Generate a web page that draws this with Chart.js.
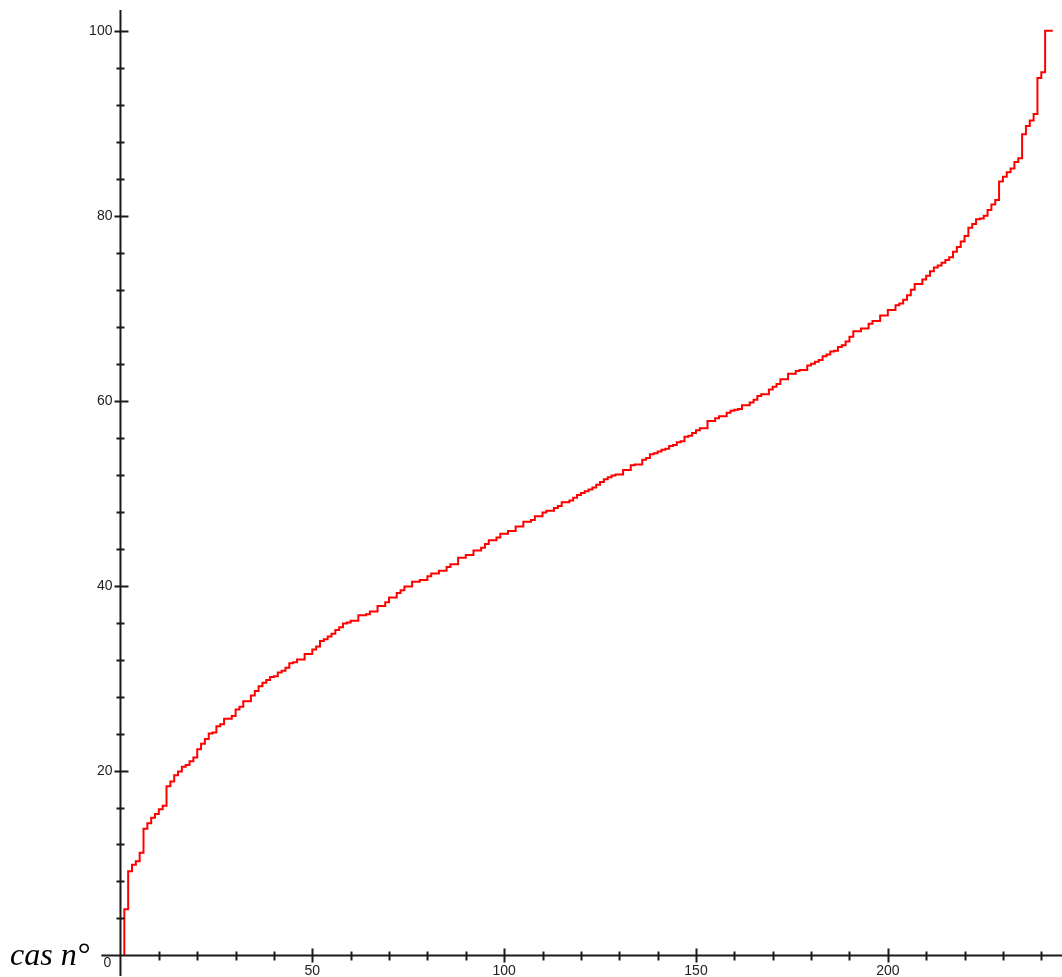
<!DOCTYPE html>
<html>
<head>
<meta charset="utf-8">
<script src="https://cdn.jsdelivr.net/npm/chart.js@4"></script>
<style>
    html, body { margin: 0; padding: 0; background: #ffffff; }
    #wrap { position: relative; width: 1062px; height: 977px; }
</style>
</head>
<body>
<div id="wrap"><canvas id="stepChart"></canvas></div>
<script>
// Sorted values, one per case
const values = [
    4.6, 5.0, 9.1, 9.8, 10.2, 11.1, 13.7, 14.3, 14.9, 15.3,
    15.8, 16.2, 18.3, 18.8, 19.5, 19.9, 20.4, 20.6, 21.0, 21.4,
    22.3, 22.9, 23.4, 24.0, 24.1, 24.8, 25.0, 25.6, 25.6, 25.9,
    26.6, 26.9, 27.5, 27.5, 28.1, 28.6, 29.1, 29.5, 29.8, 30.1,
    30.2, 30.6, 30.8, 31.1, 31.6, 31.7, 32.0, 32.0, 32.6, 32.6,
    33.1, 33.4, 34.0, 34.2, 34.5, 34.8, 35.2, 35.5, 35.9, 36.0,
    36.2, 36.2, 36.8, 36.8, 36.9, 37.2, 37.2, 37.8, 37.8, 38.2,
    38.7, 38.7, 39.2, 39.5, 39.9, 39.9, 40.4, 40.4, 40.6, 40.6,
    41.0, 41.3, 41.3, 41.6, 41.6, 42.0, 42.3, 42.3, 43.0, 43.0,
    43.3, 43.3, 43.8, 43.8, 44.1, 44.5, 44.9, 44.9, 45.2, 45.6,
    45.6, 45.9, 45.9, 46.4, 46.4, 46.9, 46.9, 47.1, 47.5, 47.5,
    47.9, 48.1, 48.1, 48.4, 48.6, 49.0, 49.0, 49.2, 49.5, 49.8,
    50.0, 50.2, 50.4, 50.6, 50.9, 51.2, 51.5, 51.7, 51.9, 52.0,
    52.0, 52.5, 52.5, 53.0, 53.1, 53.1, 53.6, 53.8, 54.2, 54.3,
    54.5, 54.7, 54.8, 55.1, 55.2, 55.5, 55.6, 56.1, 56.2, 56.5,
    56.8, 57.0, 57.0, 57.8, 57.8, 58.1, 58.3, 58.3, 58.7, 58.9,
    59.0, 59.1, 59.5, 59.5, 59.8, 60.1, 60.5, 60.7, 60.7, 61.2,
    61.5, 61.8, 62.3, 62.3, 62.9, 62.9, 63.2, 63.3, 63.3, 63.8,
    64.0, 64.2, 64.4, 64.8, 65.0, 65.3, 65.4, 65.8, 66.0, 66.4,
    66.9, 67.5, 67.5, 67.8, 67.8, 68.3, 68.6, 68.6, 69.2, 69.2,
    69.8, 69.8, 70.3, 70.5, 70.9, 71.4, 72.0, 72.6, 72.6, 73.1,
    73.5, 74.0, 74.4, 74.6, 74.9, 75.2, 75.5, 76.1, 76.6, 77.2,
    77.8, 78.7, 79.1, 79.6, 79.7, 80.0, 80.6, 81.2, 81.7, 83.7,
    84.2, 84.7, 85.1, 85.8, 86.2, 88.8, 89.7, 90.3, 91.0, 94.9,
    95.5, 100.0
];

// Case numbers 1..n
const cases = values.map((v, i) => i + 1);

// Axis ticks and labels
const xTicks = [10, 20, 30, 40, 50, 60, 70, 80, 90, 100, 110, 120, 130, 140, 150, 160, 170, 180, 190, 200, 210, 220, 230, 240];
const xLabels = [50, 100, 150, 200];
const yTicks = [4, 8, 12, 16, 20, 24, 28, 32, 36, 40, 44, 48, 52, 56, 60, 64, 68, 72, 76, 80, 84, 88, 92, 96, 100];
const yLabels = [20, 40, 60, 80, 100];
const axisTitle = 'cas n°';

// Build step points: start on the axis, end with the last level carried one case on
const points = [{ x: cases[0], y: 0 }];
cases.forEach((c, i) => points.push({ x: c, y: values[i] }));
points.push({ x: cases[cases.length - 1] + 1, y: values[values.length - 1] });

// Axes crossing at the origin, drawn from the chart scales
const crossAxes = {
    id: 'crossAxes',
    afterDatasetsDraw(chart) {
        const ctx = chart.ctx;
        const xs = chart.scales.x;
        const ys = chart.scales.y;
        const area = chart.chartArea;
        const x0 = xs.getPixelForValue(0);
        const y0 = ys.getPixelForValue(0);

        ctx.save();
        ctx.strokeStyle = '#1a1a1a';
        ctx.lineWidth = 2;

        // axis lines
        ctx.beginPath();
        ctx.moveTo(area.left, y0);
        ctx.lineTo(area.right, y0);
        ctx.moveTo(x0, area.top);
        ctx.lineTo(x0, area.bottom);
        ctx.stroke();

        // x ticks
        ctx.beginPath();
        xTicks.forEach(t => {
            const px = Math.round(xs.getPixelForValue(t)) + 0.5;
            const major = xLabels.includes(t);
            ctx.moveTo(px, y0 - (major ? 7 : 4));
            ctx.lineTo(px, y0 + (major ? 7 : 5));
        });
        // y ticks
        yTicks.forEach(t => {
            const py = Math.round(ys.getPixelForValue(t)) + 0.5;
            const major = yLabels.includes(t);
            ctx.moveTo(x0 - (major ? 6 : 4), py);
            ctx.lineTo(x0 + (major ? 8 : 4), py);
        });
        ctx.stroke();

        // tick labels
        ctx.fillStyle = '#222222';
        ctx.font = '14px "Liberation Sans", Arial, sans-serif';
        ctx.textAlign = 'center';
        ctx.textBaseline = 'alphabetic';
        xLabels.forEach(t => {
            ctx.fillText(String(t), xs.getPixelForValue(t), y0 + 20);
        });
        ctx.textAlign = 'right';
        ctx.textBaseline = 'middle';
        yLabels.forEach(t => {
            ctx.fillText(String(t), x0 - 8, ys.getPixelForValue(t) + 0.5);
        });
        ctx.textAlign = 'center';
        ctx.textBaseline = 'alphabetic';
        ctx.fillText('0', x0 - 13, y0 + 11.5);

        // axis title
        ctx.fillStyle = '#000000';
        ctx.font = 'italic 32px "Liberation Serif", "Times New Roman", serif';
        ctx.textAlign = 'left';
        ctx.fillText(axisTitle, 10, y0 + 10);
        ctx.restore();
    }
};

// Create chart
document.addEventListener('DOMContentLoaded', () => {
    const ctx = document.getElementById('stepChart');
    new Chart(ctx, {
        type: 'line',
        data: {
            datasets: [{
                data: points,
                borderColor: '#ff0000',
                borderWidth: 2,
                stepped: 'after',
                pointRadius: 0,
                fill: false
            }]
        },
        options: {
            responsive: true,
            maintainAspectRatio: false,
            animation: false,
            layout: {
                padding: { left: 101.3, right: 0, top: 10, bottom: 1 }
            },
            plugins: {
                legend: { display: false },
                tooltip: { enabled: false }
            },
            scales: {
                x: { type: 'linear', min: -5, max: 245.4, display: false },
                y: { type: 'linear', min: -2.22, max: 102.24, display: false }
            }
        },
        plugins: [crossAxes]
    });
});
</script>
</body>
</html>
